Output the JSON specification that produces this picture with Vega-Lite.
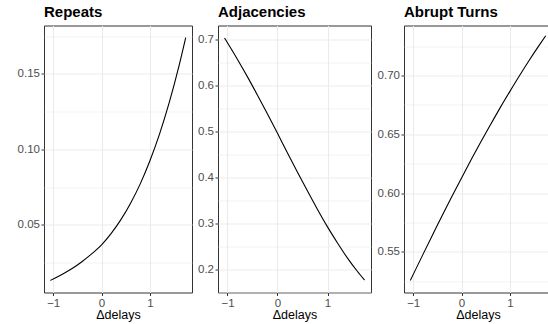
{
  "$schema": "https://vega.github.io/schema/vega-lite/v6.json",
  "background": "white",
  "padding": {"left": 16, "top": 3.5, "right": 0, "bottom": 0},
  "config": {
    "font": "Liberation Sans",
    "view": {"stroke": "#333333", "strokeWidth": 1},
    "axis": {
      "labelFont": "Liberation Sans",
      "labelFontSize": 11.5,
      "labelColor": "#4D4D4D",
      "tickColor": "#333333",
      "tickSize": 3,
      "labelPadding": 1.5,
      "domain": false,
      "gridColor": "#EBEBEB",
      "labelOverlap": false,
      "labelFlush": false,
      "titleFont": "Liberation Sans",
      "titleFontSize": 12.5,
      "titleFontWeight": "normal",
      "titleColor": "#000000",
      "titlePadding": 0
    },
    "title": {"anchor": "start", "frame": "group", "fontSize": 15, "fontWeight": "bold", "color": "#000000", "offset": 6, "baseline": "alphabetic", "font": "Liberation Sans"}
  },
  "data": {"values": [
    {"panel": "Repeats", "x": -1.06, "p": 0.0133},
    {"panel": "Repeats", "x": -0.8, "p": 0.0176},
    {"panel": "Repeats", "x": -0.6, "p": 0.0213},
    {"panel": "Repeats", "x": -0.4, "p": 0.0258},
    {"panel": "Repeats", "x": -0.2, "p": 0.0310},
    {"panel": "Repeats", "x": 0, "p": 0.0368},
    {"panel": "Repeats", "x": 0.2, "p": 0.0444},
    {"panel": "Repeats", "x": 0.4, "p": 0.0535},
    {"panel": "Repeats", "x": 0.6, "p": 0.0644},
    {"panel": "Repeats", "x": 0.8, "p": 0.0772},
    {"panel": "Repeats", "x": 1.0, "p": 0.0925},
    {"panel": "Repeats", "x": 1.2, "p": 0.1103},
    {"panel": "Repeats", "x": 1.4, "p": 0.1311},
    {"panel": "Repeats", "x": 1.6, "p": 0.1551},
    {"panel": "Repeats", "x": 1.74, "p": 0.1740},
    {"panel": "Adjacencies", "x": -1.06, "p": 0.7039},
    {"panel": "Adjacencies", "x": -0.8, "p": 0.657},
    {"panel": "Adjacencies", "x": -0.6, "p": 0.619},
    {"panel": "Adjacencies", "x": -0.4, "p": 0.579},
    {"panel": "Adjacencies", "x": -0.2, "p": 0.538},
    {"panel": "Adjacencies", "x": 0, "p": 0.496},
    {"panel": "Adjacencies", "x": 0.2, "p": 0.453},
    {"panel": "Adjacencies", "x": 0.4, "p": 0.411},
    {"panel": "Adjacencies", "x": 0.6, "p": 0.370},
    {"panel": "Adjacencies", "x": 0.8, "p": 0.330},
    {"panel": "Adjacencies", "x": 1.0, "p": 0.292},
    {"panel": "Adjacencies", "x": 1.2, "p": 0.257},
    {"panel": "Adjacencies", "x": 1.4, "p": 0.224},
    {"panel": "Adjacencies", "x": 1.6, "p": 0.1948},
    {"panel": "Adjacencies", "x": 1.74, "p": 0.1762},
    {"panel": "Abrupt Turns", "x": -1.06, "p": 0.5257},
    {"panel": "Abrupt Turns", "x": -0.8, "p": 0.5477},
    {"panel": "Abrupt Turns", "x": -0.6, "p": 0.5644},
    {"panel": "Abrupt Turns", "x": -0.4, "p": 0.5810},
    {"panel": "Abrupt Turns", "x": -0.2, "p": 0.5971},
    {"panel": "Abrupt Turns", "x": 0, "p": 0.6129},
    {"panel": "Abrupt Turns", "x": 0.2, "p": 0.6285},
    {"panel": "Abrupt Turns", "x": 0.4, "p": 0.6436},
    {"panel": "Abrupt Turns", "x": 0.6, "p": 0.6583},
    {"panel": "Abrupt Turns", "x": 0.8, "p": 0.6727},
    {"panel": "Abrupt Turns", "x": 1.0, "p": 0.6865},
    {"panel": "Abrupt Turns", "x": 1.2, "p": 0.7000},
    {"panel": "Abrupt Turns", "x": 1.4, "p": 0.7130},
    {"panel": "Abrupt Turns", "x": 1.6, "p": 0.7254},
    {"panel": "Abrupt Turns", "x": 1.74, "p": 0.7338}
  ]},
  "spacing": 4,
  "bounds": "full",
  "hconcat": [
    {
      "title": "Repeats",
      "width": 148,
      "height": 267,
      "transform": [{"filter": "datum.panel === 'Repeats'"}],
      "mark": {"type": "line", "color": "#000000", "strokeWidth": 1.1, "interpolate": "monotone"},
      "encoding": {
        "x": {"field": "x", "type": "quantitative",
          "scale": {"domain": [-1.19, 1.87], "nice": false, "zero": false},
          "axis": {"title": "Δdelays", "values": [-1, -0.5, 0, 0.5, 1, 1.5], "format": "d",
            "labelExpr": "datum.value % 1 === 0 ? datum.label : ''",
            "tickOpacity": {"condition": {"test": "datum.value % 1 !== 0", "value": 0}, "value": 1},
            "gridWidth": {"condition": {"test": "datum.value % 1 !== 0", "value": 0.6}, "value": 1.1}}},
        "y": {"field": "p", "type": "quantitative",
          "scale": {"domain": [0.0053, 0.182], "nice": false, "zero": false},
          "axis": {"title": null, "values": [0.025, 0.05, 0.075, 0.1, 0.125, 0.15, 0.175], "format": ".2f",
            "labelExpr": "abs(datum.value * 20 - round(datum.value * 20)) < 0.000001 ? datum.label : ''",
            "tickOpacity": {"condition": {"test": "abs(datum.value * 20 - round(datum.value * 20)) > 0.000001", "value": 0}, "value": 1},
            "gridWidth": {"condition": {"test": "abs(datum.value * 20 - round(datum.value * 20)) > 0.000001", "value": 0.6}, "value": 1.1}}}
      }
    },
    {
      "title": "Adjacencies",
      "width": 153,
      "height": 267,
      "transform": [{"filter": "datum.panel === 'Adjacencies'"}],
      "mark": {"type": "line", "color": "#000000", "strokeWidth": 1.1, "interpolate": "monotone"},
      "encoding": {
        "x": {"field": "x", "type": "quantitative",
          "scale": {"domain": [-1.19, 1.87], "nice": false, "zero": false},
          "axis": {"title": "Δdelays", "values": [-1, -0.5, 0, 0.5, 1, 1.5], "format": "d",
            "labelExpr": "datum.value % 1 === 0 ? datum.label : ''",
            "tickOpacity": {"condition": {"test": "datum.value % 1 !== 0", "value": 0}, "value": 1},
            "gridWidth": {"condition": {"test": "datum.value % 1 !== 0", "value": 0.6}, "value": 1.1}}},
        "y": {"field": "p", "type": "quantitative",
          "scale": {"domain": [0.149, 0.731], "nice": false, "zero": false},
          "axis": {"title": null, "values": [0.15, 0.2, 0.25, 0.3, 0.35, 0.4, 0.45, 0.5, 0.55, 0.6, 0.65, 0.7], "format": ".1f",
            "labelExpr": "abs(datum.value * 10 - round(datum.value * 10)) < 0.000001 ? datum.label : ''",
            "tickOpacity": {"condition": {"test": "abs(datum.value * 10 - round(datum.value * 10)) > 0.000001", "value": 0}, "value": 1},
            "gridWidth": {"condition": {"test": "abs(datum.value * 10 - round(datum.value * 10)) > 0.000001", "value": 0.6}, "value": 1.1}}}
      }
    },
    {
      "title": "Abrupt Turns",
      "width": 148,
      "height": 267,
      "transform": [{"filter": "datum.panel === 'Abrupt Turns'"}],
      "mark": {"type": "line", "color": "#000000", "strokeWidth": 1.1, "interpolate": "monotone"},
      "encoding": {
        "x": {"field": "x", "type": "quantitative",
          "scale": {"domain": [-1.19, 1.87], "nice": false, "zero": false},
          "axis": {"title": "Δdelays", "values": [-1, -0.5, 0, 0.5, 1, 1.5], "format": "d",
            "labelExpr": "datum.value % 1 === 0 ? datum.label : ''",
            "tickOpacity": {"condition": {"test": "datum.value % 1 !== 0", "value": 0}, "value": 1},
            "gridWidth": {"condition": {"test": "datum.value % 1 !== 0", "value": 0.6}, "value": 1.1}}},
        "y": {"field": "p", "type": "quantitative",
          "scale": {"domain": [0.5155, 0.7425], "nice": false, "zero": false},
          "axis": {"title": null, "values": [0.525, 0.55, 0.575, 0.6, 0.625, 0.65, 0.675, 0.7, 0.725], "format": ".2f",
            "labelExpr": "abs(datum.value * 20 - round(datum.value * 20)) < 0.000001 ? datum.label : ''",
            "tickOpacity": {"condition": {"test": "abs(datum.value * 20 - round(datum.value * 20)) > 0.000001", "value": 0}, "value": 1},
            "gridWidth": {"condition": {"test": "abs(datum.value * 20 - round(datum.value * 20)) > 0.000001", "value": 0.6}, "value": 1.1}}}
      }
    }
  ]
}
